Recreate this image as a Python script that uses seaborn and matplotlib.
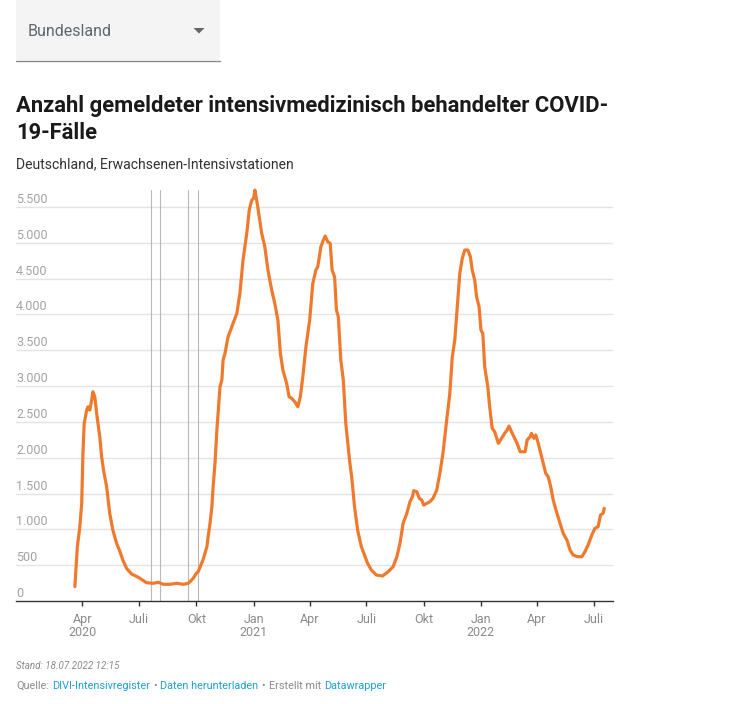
import numpy as np
import pandas as pd
import matplotlib
matplotlib.use("Agg")
import matplotlib.pyplot as plt
import matplotlib.transforms as mtransforms
from matplotlib.patches import Rectangle, Polygon
import seaborn as sns

# ---------------- data ----------------
dates = [
    "2020-03-20", "2020-03-24", "2020-03-28", "2020-03-31", "2020-04-02", "2020-04-04",
    "2020-04-08", "2020-04-10", "2020-04-13", "2020-04-16", "2020-04-18", "2020-04-21",
    "2020-04-24", "2020-04-29", "2020-05-02", "2020-05-05", "2020-05-10", "2020-05-15",
    "2020-05-20", "2020-05-26", "2020-05-31", "2020-06-05", "2020-06-11", "2020-06-19",
    "2020-06-30", "2020-07-13", "2020-07-24", "2020-08-01", "2020-08-09", "2020-08-20",
    "2020-08-30", "2020-09-10", "2020-09-18", "2020-09-21", "2020-09-26", "2020-10-01",
    "2020-10-04", "2020-10-12", "2020-10-18", "2020-10-20", "2020-10-23", "2020-10-26",
    "2020-10-28", "2020-10-31", "2020-11-03", "2020-11-05", "2020-11-08", "2020-11-11",
    "2020-11-13", "2020-11-16", "2020-11-19", "2020-11-21", "2020-11-27", "2020-12-05",
    "2020-12-10", "2020-12-15", "2020-12-21", "2020-12-25", "2020-12-29", "2021-01-01",
    "2021-01-03", "2021-01-06", "2021-01-10", "2021-01-14", "2021-01-19", "2021-01-24",
    "2021-01-30", "2021-02-04", "2021-02-09", "2021-02-13", "2021-02-17", "2021-02-23",
    "2021-02-27", "2021-03-03", "2021-03-08", "2021-03-13", "2021-03-17", "2021-03-21",
    "2021-03-26", "2021-04-01", "2021-04-06", "2021-04-11", "2021-04-14", "2021-04-19",
    "2021-04-23", "2021-04-26", "2021-04-30", "2021-05-04", "2021-05-07", "2021-05-11",
    "2021-05-14", "2021-05-17", "2021-05-21", "2021-05-25", "2021-05-29", "2021-06-04",
    "2021-06-08", "2021-06-12", "2021-06-17", "2021-06-23", "2021-06-28", "2021-07-03",
    "2021-07-09", "2021-07-17", "2021-07-27", "2021-08-05", "2021-08-13", "2021-08-19",
    "2021-08-24", "2021-08-29", "2021-09-04", "2021-09-09", "2021-09-13", "2021-09-15",
    "2021-09-20", "2021-09-24", "2021-09-28", "2021-10-01", "2021-10-06", "2021-10-11",
    "2021-10-16", "2021-10-22", "2021-10-27", "2021-11-01", "2021-11-07", "2021-11-12",
    "2021-11-16", "2021-11-20", "2021-11-24", "2021-11-28", "2021-12-02", "2021-12-06",
    "2021-12-11", "2021-12-15", "2021-12-18", "2021-12-22", "2021-12-25", "2021-12-29",
    "2022-01-01", "2022-01-04", "2022-01-07", "2022-01-12", "2022-01-15", "2022-01-19",
    "2022-01-23", "2022-01-29", "2022-02-03", "2022-02-08", "2022-02-12", "2022-02-15",
    "2022-02-19", "2022-02-24", "2022-02-28", "2022-03-05", "2022-03-09", "2022-03-13",
    "2022-03-16", "2022-03-21", "2022-03-23", "2022-03-27", "2022-03-30", "2022-04-03",
    "2022-04-07", "2022-04-11", "2022-04-15", "2022-04-19", "2022-04-23", "2022-04-27",
    "2022-05-03", "2022-05-08", "2022-05-13", "2022-05-19", "2022-05-24", "2022-05-29",
    "2022-06-05", "2022-06-12", "2022-06-17", "2022-06-22", "2022-06-28", "2022-07-03",
    "2022-07-08", "2022-07-12", "2022-07-16", "2022-07-18",
]
values = [
    200, 757, 1036, 1363, 2060, 2479,
    2664, 2710, 2664, 2804, 2920, 2850,
    2618, 2292, 2013, 1827, 1595, 1223,
    990, 805, 700, 572, 456, 377,
    330, 255, 247, 261, 233, 233,
    247, 233, 247, 270, 317, 386,
    409, 580, 757, 897, 1084, 1316,
    1595, 1921, 2385, 2618, 2990, 3083,
    3362, 3455, 3595, 3687, 3827, 4013,
    4292, 4757, 5130, 5455, 5594, 5617,
    5733, 5594, 5361, 5130, 4943, 4618,
    4338, 4153, 3920, 3455, 3222, 3037,
    2850, 2828, 2781, 2711, 2850, 3129,
    3548, 3920, 4432, 4618, 4664, 4943,
    5036, 5092, 5013, 4990, 4618, 4524,
    4060, 3966, 3362, 3083, 2479, 1967,
    1688, 1316, 990, 757, 641, 525,
    432, 363, 349, 409, 479, 618,
    805, 1084, 1223, 1385, 1455, 1539,
    1525, 1432, 1409, 1339, 1363, 1385,
    1432, 1548, 1781, 2060, 2525, 2897,
    3408, 3641, 4106, 4571, 4780, 4897,
    4897, 4804, 4618, 4478, 4245, 4106,
    3780, 3734, 3269, 2990, 2711, 2409,
    2362, 2200, 2270, 2339, 2385, 2441,
    2362, 2270, 2200, 2083, 2083, 2083,
    2246, 2292, 2339, 2270, 2316, 2200,
    2060, 1921, 1781, 1734, 1595, 1409,
    1223, 1084, 944, 851, 711, 641,
    618, 618, 688, 781, 921, 1014,
    1036, 1200, 1223, 1293,
]

tick_dates = ["2020-04-01", "2020-07-01", "2020-10-01", "2021-01-01", "2021-04-01",
              "2021-07-01", "2021-10-01", "2022-01-01", "2022-04-01", "2022-07-01"]
tick_labels = ["Apr\n2020", "Juli", "Okt", "Jan\n2021", "Apr",
               "Juli", "Okt", "Jan\n2022", "Apr", "Juli"]
ytick_values = [0, 500, 1000, 1500, 2000, 2500, 3000, 3500, 4000, 4500, 5000, 5500]
marker_dates = ["2020-07-20", "2020-08-03", "2020-09-17", "2020-10-03"]

dropdown_label = "Bundesland"
title_lines = ["Anzahl gemeldeter intensivmedizinisch behandelter COVID-", "19-Fälle"]
subtitle = "Deutschland, Erwachsenen-Intensivstationen"
stand_text = "Stand: 18.07.2022 12:15"

# ---------------- style ----------------
sns.set_theme(style="white")
plt.rcParams['font.family'] = ['Roboto', 'DejaVu Sans']

W, H = 742, 704
fig = plt.figure(figsize=(W / 100, H / 100), dpi=100)
fig.patch.set_facecolor("white")

ax = fig.add_axes([16 / W, (H - 601) / H, (613 - 16) / W, (601 - 190) / H])
ax.patch.set_alpha(0)

df = pd.DataFrame({"Datum": pd.to_datetime(dates), "Fälle": values})

# gridlines & marker lines
for v in ytick_values[1:]:
    ax.axhline(v, color="#e3e3e3", lw=1, zorder=0)
for d in marker_dates:
    ax.axvline(pd.Timestamp(d), color="#b8b8b8", lw=0.8, zorder=1)

sns.lineplot(data=df, x="Datum", y="Fälle", ax=ax, color="#ef7a2e",
             linewidth=2.3, clip_on=False, zorder=3)

ax.set_xlim(pd.Timestamp("2019-12-16 12:00"), pd.Timestamp("2022-08-01"))
ax.set_ylim(0, 5735)
ax.set_xlabel("")
ax.set_ylabel("")
ax.set_yticks([])
ax.set_xticks(pd.to_datetime(tick_dates))
ax.set_xticklabels(tick_labels)
ax.tick_params(axis="x", length=3.6, width=1, color="#333333", labelcolor="#8a8a8a",
               labelsize=9, pad=5, bottom=True)
for lab in ax.get_xticklabels():
    lab.set_linespacing(1.05)
for s in ["top", "left", "right"]:
    ax.spines[s].set_visible(False)
ax.spines["bottom"].set_color("#333333")
ax.spines["bottom"].set_linewidth(1)

blend = mtransforms.blended_transform_factory(ax.transAxes, ax.transData)
for v in ytick_values:
    lab = f"{v:,}".replace(",", ".")
    ax.annotate(lab, xy=(0, v), xycoords=blend, xytext=(0, 4), textcoords="offset pixels",
                ha="left", va="baseline", fontsize=9, color="#a3a3a3")

# ---------------- overlay (header / footer) ----------------
ov = fig.add_axes([0, 0, 1, 1], zorder=5)
ov.patch.set_alpha(0)
ov.axis("off")
ov.set_xlim(0, W)
ov.set_ylim(H, 0)

ov.add_patch(Rectangle((16, 0), 204, 60, facecolor="#f4f4f4", edgecolor="none"))
ov.plot([16, 220], [60.5, 60.5], color="#8a8a8a", lw=1)
ov.text(28, 31.5, dropdown_label, fontsize=11.5, color="#5f6670", va="center", ha="left")
ov.add_patch(Polygon([(193.5, 28), (204.5, 28), (199, 33.5)], closed=True,
                     facecolor="#666666", edgecolor="none"))

ov.text(16, 106, title_lines[0], fontsize=15.85, weight="bold", color="#1a1a1a",
        va="center", ha="left")
ov.text(16, 133, title_lines[1], fontsize=15.85, weight="bold", color="#1a1a1a",
        va="center", ha="left")
ov.text(16, 164, subtitle, fontsize=10.1, color="#333333", va="center", ha="left")

ov.text(16, 666, stand_text, fontsize=7.0, style="italic", color="#8a8a8a",
        va="center", ha="left")

grey = "#8a8a8a"
blue = "#1d9fd0"
pieces = [("Quelle:", grey, 0), ("DIVI-Intensivregister", blue, 3), ("•", grey, 3),
          ("Daten herunterladen", blue, 4), ("•", grey, 3), ("Erstellt mit", grey, 4),
          ("Datawrapper", blue, 3)]
prev = ov.text(16, 686, pieces[0][0], fontsize=7.8, color=pieces[0][1],
               va="center", ha="left")
for txt, col, gap in pieces[1:]:
    prev = ov.annotate(txt, xy=(1, 0), xycoords=prev, xytext=(gap, 0),
                       textcoords="offset pixels", fontsize=7.8, color=col,
                       va="bottom", ha="left")

fig.savefig("out.png", dpi=100, facecolor="white")
